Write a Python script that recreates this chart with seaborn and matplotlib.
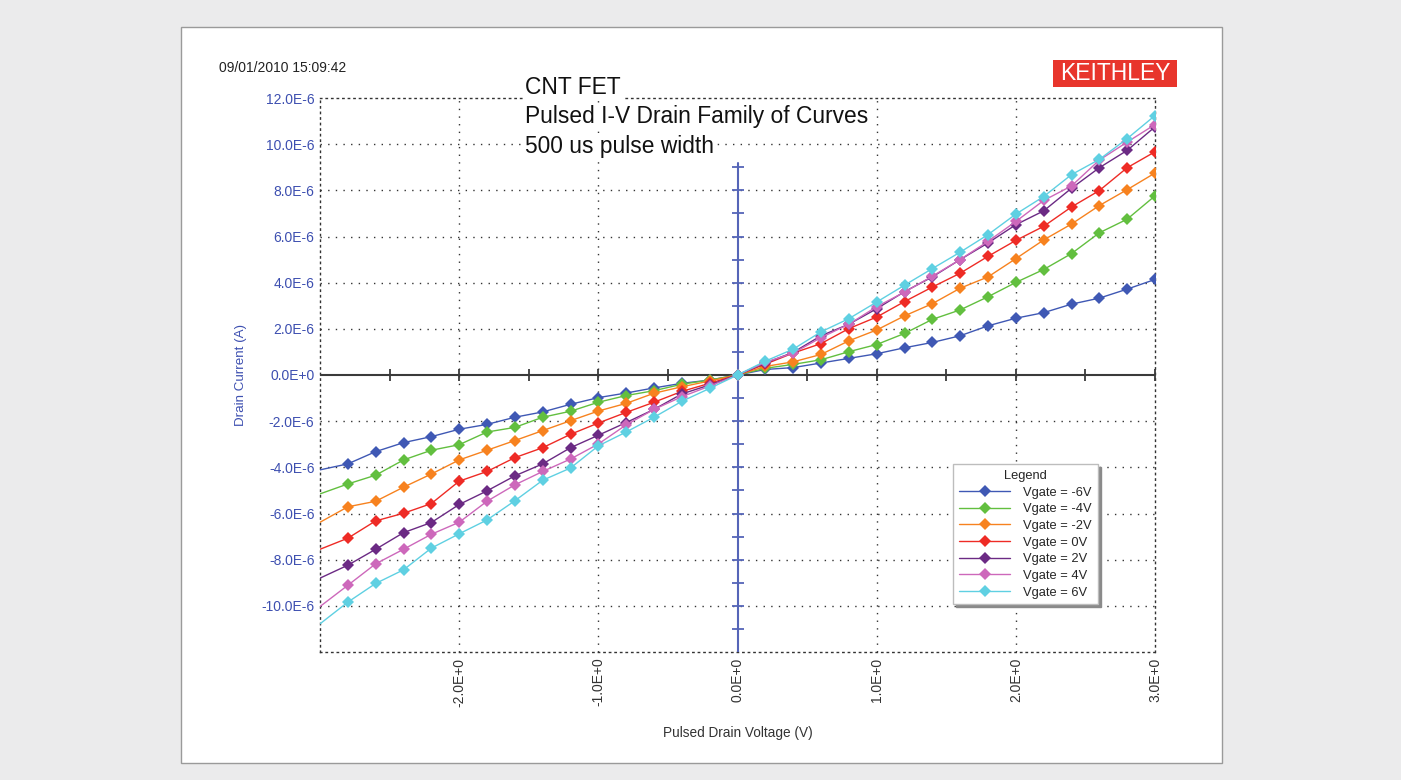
import numpy as np
import pandas as pd
import matplotlib
matplotlib.use("Agg")
import matplotlib.pyplot as plt
from matplotlib.patches import Rectangle
import seaborn as sns

# ---------------- data (drain current in microamps) ----------------
vdrain = [-3.0, -2.8, -2.6, -2.4, -2.2, -2.0, -1.8, -1.6, -1.4, -1.2, -1.0,
          -0.8, -0.6, -0.4, -0.2, 0.0, 0.2, 0.4, 0.6, 0.8, 1.0, 1.2, 1.4,
          1.6, 1.8, 2.0, 2.2, 2.4, 2.6, 2.8, 3.0]

vg_m6 = [-4.11, -3.85, -3.32, -2.93, -2.67, -2.35, -2.14, -1.83, -1.60, -1.27, -0.98,
         -0.78, -0.56, -0.36, -0.22, 0.0, 0.24, 0.32, 0.52, 0.72, 0.92, 1.18, 1.41,
         1.70, 2.13, 2.46, 2.70, 3.07, 3.33, 3.72, 4.14]
vg_m4 = [-5.15, -4.72, -4.34, -3.68, -3.26, -3.02, -2.47, -2.27, -1.83, -1.57, -1.18,
         -0.89, -0.68, -0.40, -0.22, 0.0, 0.29, 0.46, 0.66, 1.01, 1.32, 1.80, 2.41,
         2.82, 3.39, 4.01, 4.57, 5.26, 6.16, 6.75, 7.76]
vg_m2 = [-6.38, -5.71, -5.47, -4.86, -4.29, -3.68, -3.26, -2.84, -2.41, -1.98, -1.56,
         -1.23, -0.79, -0.51, -0.26, 0.0, 0.37, 0.57, 0.89, 1.48, 1.95, 2.56, 3.09,
         3.76, 4.25, 5.04, 5.85, 6.54, 7.34, 8.03, 8.75]
vg_0 = [-7.55, -7.07, -6.32, -5.99, -5.57, -4.60, -4.18, -3.58, -3.15, -2.57, -2.08,
        -1.62, -1.18, -0.71, -0.36, 0.0, 0.47, 0.95, 1.36, 2.01, 2.51, 3.18, 3.81,
        4.41, 5.14, 5.83, 6.44, 7.28, 7.99, 8.98, 9.67]
vg_2 = [-8.80, -8.24, -7.55, -6.83, -6.39, -5.61, -5.02, -4.37, -3.85, -3.15, -2.61,
        -2.06, -1.49, -0.82, -0.43, 0.0, 0.52, 0.98, 1.70, 2.20, 2.87, 3.61, 4.25,
        5.00, 5.72, 6.51, 7.11, 8.09, 8.98, 9.73, 10.75]
vg_4 = [-10.03, -9.11, -8.18, -7.55, -6.90, -6.38, -5.47, -4.76, -4.18, -3.64, -2.99,
        -2.16, -1.49, -0.94, -0.48, 0.0, 0.55, 0.95, 1.62, 2.20, 2.96, 3.59, 4.28,
        5.00, 5.79, 6.65, 7.56, 8.19, 9.31, 10.09, 10.85]
vg_6 = [-10.78, -9.84, -9.03, -8.44, -7.50, -6.88, -6.28, -5.45, -4.56, -4.03, -3.07,
        -2.47, -1.83, -1.14, -0.58, 0.0, 0.60, 1.12, 1.87, 2.44, 3.16, 3.89, 4.61,
        5.32, 6.08, 6.97, 7.73, 8.68, 9.34, 10.24, 11.24]

series_labels = ["Vgate = -6V", "Vgate = -4V", "Vgate = -2V", "Vgate = 0V",
                 "Vgate = 2V", "Vgate = 4V", "Vgate = 6V"]
series_values = [vg_m6, vg_m4, vg_m2, vg_0, vg_2, vg_4, vg_6]
series_colors = ["#3f58b4", "#62bf3f", "#f7821f", "#ee2b25", "#6b2a84", "#cd68bb", "#5fd0e2"]

yticks = [-10, -8, -6, -4, -2, 0, 2, 4, 6, 8, 10, 12]
ytick_labels = ["-10.0E-6", "-8.0E-6", "-6.0E-6", "-4.0E-6", "-2.0E-6", "0.0E+0",
                "2.0E-6", "4.0E-6", "6.0E-6", "8.0E-6", "10.0E-6", "12.0E-6"]
xticks = [-2, -1, 0, 1, 2, 3]
xtick_labels = ["-2.0E+0", "-1.0E+0", "0.0E+0", "1.0E+0", "2.0E+0", "3.0E+0"]

# ---------------- style ----------------
sns.set_theme(style="white")
plt.rcParams["font.family"] = ["Liberation Sans", "DejaVu Sans"]

W, H = 1401, 780
fig = plt.figure(figsize=(W / 100, H / 100), dpi=100)
fig.patch.set_facecolor("#ebebec")

def fx(px):
    return px / W

def fy(py):
    return 1 - py / H

# white panel
fig.patches.append(Rectangle((fx(181), fy(763)), fx(1222) - fx(181), fy(27) - fy(763),
                             transform=fig.transFigure, facecolor="white",
                             edgecolor="#9a9a9a", linewidth=1.0, zorder=-5))

ax = fig.add_axes([fx(320), fy(652), fx(1155) - fx(320), fy(98) - fy(652)])
ax.set_zorder(1)
ax.set_facecolor("white")

df = pd.DataFrame({"V": vdrain * len(series_values),
                   "I": [v for s in series_values for v in s],
                   "Series": [lab for lab, s in zip(series_labels, series_values) for _ in s]})

sns.lineplot(data=df, x="V", y="I", hue="Series", hue_order=series_labels,
             palette=series_colors, marker="D", markersize=5.8, markeredgewidth=0,
             linewidth=1.0, markevery=list(range(1, len(vdrain))), ax=ax,
             legend=True, zorder=5)

ax.set_xlim(-3, 3)
ax.set_ylim(-12, 12)

# dotted grid and frame
dot = (0, (1, 4.5))
for xv in [-2, -1, 1, 2]:
    ax.axvline(xv, color="#333333", linestyle=dot, linewidth=1.0, zorder=1)
for yv in [-10, -8, -6, -4, -2, 2, 4, 6, 8, 10]:
    ax.axhline(yv, color="#333333", linestyle=dot, linewidth=1.0, zorder=1)
for sp in ax.spines.values():
    sp.set_visible(True)
    sp.set_linestyle((0, (1, 3)))
    sp.set_color("#333333")
    sp.set_linewidth(1.0)

# central axes lines
ax.axhline(0, color="#3a3a3a", linewidth=1.5, zorder=3)
ax.plot([-2.5, -2, -1.5, -1, -0.5, 0.5, 1, 1.5, 2, 2.5, 3], [0] * 11, linestyle="none",
        marker="|", markersize=8, markeredgewidth=1.3, color="#3a3a3a", zorder=3)
ax.axvline(0, ymin=0, ymax=(9.2 + 12) / 24, color="#5565b8", linewidth=1.5, zorder=3)
ax.plot([0] * 21, list(range(-11, 10)), linestyle="none", marker="_", markersize=8,
        markeredgewidth=1.3, color="#5565b8", zorder=3)

ax.set_yticks(yticks)
ax.set_yticklabels(ytick_labels, color="#3d4fb0", fontsize=10)
ax.set_xticks(xticks)
ax.set_xticklabels(xtick_labels, rotation=90, color="#333333", fontsize=10)
ax.tick_params(axis="both", length=0, pad=4)
ax.grid(False)

ax.set_ylabel("Drain Current (A)", color="#3d4fb0", fontsize=9.6)
ax.yaxis.set_label_coords((247 - 320) / 835, 0.5)
ax.set_xlabel("Pulsed Drain Voltage (V)", color="#333333", fontsize=9.8)
ax.xaxis.set_label_coords(0.5, (652 - 726) / 554)

# legend
handles, labels = ax.get_legend_handles_labels()
for h in handles:
    h.set_markevery(None)
leg = ax.legend(handles, labels, title="Legend", loc="upper left",
                bbox_to_anchor=(fx(953), fy(464)), bbox_transform=fig.transFigure,
                fontsize=9.3, title_fontsize=9.3, frameon=True, fancybox=False,
                shadow={"color": "#8a8a8a", "alpha": 1.0}, handlelength=4.0,
                labelspacing=0.36, borderpad=0.45, handletextpad=1.0, borderaxespad=0)
leg.get_frame().set_edgecolor("#bdbdbd")
leg.get_frame().set_linewidth(1.0)
leg.set_zorder(10)

# header texts
fig.text(fx(219), fy(68), "09/01/2010 15:09:42", fontsize=10, color="#222222",
         ha="left", va="center")
for i, line in enumerate(["CNT FET", "Pulsed I-V Drain Family of Curves", "500 us pulse width"]):
    fig.text(fx(525), fy(87 + 30 * i), line, fontsize=16.4, color="#111111",
             ha="left", va="center", zorder=5,
             bbox=dict(facecolor="white", edgecolor="none", pad=1.5))

# logo
fig.patches.append(Rectangle((fx(1053), fy(87)), fx(1177) - fx(1053), fy(60) - fy(87),
                             transform=fig.transFigure, facecolor="#e8352c",
                             edgecolor="none", zorder=2))
fig.text(fx(1115), fy(74), "KEITHLEY", fontsize=16.5, color="white",
         ha="center", va="center", zorder=3)

fig.savefig("out.png", dpi=100, facecolor=fig.get_facecolor())
